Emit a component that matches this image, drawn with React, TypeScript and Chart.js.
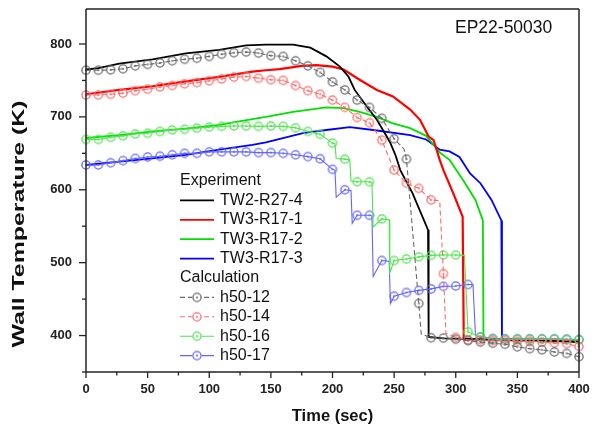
import React, { useEffect, useRef } from 'react';
import { Chart, registerables } from 'chart.js';

Chart.register(...registerables);

const FONT = '"Liberation Sans", Arial, Helvetica, sans-serif';

// ---- Experiment series [time (s), wall temperature (K)] ----
const expTW2_R27_4: number[][] = [
  [0, 765], [10, 767], [27, 773], [54, 779], [81, 787], [108, 792], [130, 798], [146, 799], [168, 799],
  [182, 795], [195, 783], [206, 769], [213, 755], [218, 737], [228, 714], [236, 696], [244, 673], [247, 664],
  [251, 648], [255, 627], [265, 595], [277.5, 545], [278, 398], [290, 396], [320, 395], [360, 394], [400, 391],
];
const expTW3_R17_1: number[][] = [
  [0, 731], [27, 737], [54, 742], [81, 748.6], [108, 755], [135, 762], [146, 764], [157, 765.5], [175, 770],
  [187, 771], [200, 769], [209, 765], [222, 751], [236, 737], [249, 728], [263, 710], [271, 696], [278, 673],
  [282, 668], [287, 641], [290, 627], [298, 595], [305.6, 563], [306.5, 395], [330, 394], [370, 393], [400, 392],
];
const expTW3_R17_2: number[][] = [
  [0, 671], [27, 675], [54, 680], [81, 684], [108, 689], [135, 697], [146, 700], [168, 707], [195, 713],
  [209, 712], [222, 707], [236, 700], [249, 691], [263, 684.5], [271, 678], [276, 674], [279, 668], [287, 651],
  [295, 641], [306, 613], [316, 586], [322, 558], [322.5, 395], [350, 394], [400, 393],
];
const expTW3_R17_3: number[][] = [
  [0, 634], [27, 638.6], [54, 643], [81, 648], [108, 655], [135, 661.5], [146, 665], [176, 677.6], [195, 682],
  [214, 686], [233, 682], [263, 675], [276, 669], [280, 664], [287, 655], [295, 652.6], [303, 645], [311.6, 622.5],
  [320, 609], [329, 586], [337, 558], [337.5, 395], [360, 394], [400, 393],
];

// ---- Calculation series (markers every 10 s) ----
const calcH50_12: number[][] = [
  [0, 764], [10, 764], [20, 764.5], [30, 766], [40, 770], [50, 772], [60, 774], [70, 777], [80, 779], [90, 780.5],
  [100, 783], [110, 786], [120, 788], [130, 789], [140, 787.5], [150, 784], [160, 783], [170, 777], [180, 770],
  [190, 761], [200, 748], [210, 737], [220, 723], [230, 713], [240, 698], [250, 670], [258, 656], [260, 642],
  [270, 444], [272, 402], [280, 397], [290, 396.5], [300, 395], [310, 393], [320, 391], [330, 389.5], [340, 388],
  [350, 384.5], [360, 382], [370, 380.5], [380, 377.5], [390, 375.5], [400, 371],
];
const calcH50_14: number[][] = [
  [0, 730], [10, 730], [20, 731], [30, 732.6], [40, 736], [50, 738], [60, 741], [70, 743], [80, 745.4], [90, 747],
  [100, 749.5], [110, 752], [120, 754.6], [130, 755.4], [140, 753], [150, 751], [160, 750], [170, 743], [180, 736],
  [190, 731], [200, 723], [210, 713], [220, 699], [230, 692], [240, 668], [250, 627], [260, 609], [270, 602],
  [280, 586], [287, 585], [290, 485], [292, 403], [300, 397.5], [310, 394], [320, 394], [330, 393], [340, 393],
  [350, 392], [360, 392], [370, 391], [380, 390], [390, 389], [400, 385],
];
const calcH50_16: number[][] = [
  [0, 669], [10, 669], [20, 672], [30, 674], [40, 676.5], [50, 677.5], [60, 680], [70, 682], [80, 683], [90, 684.5],
  [100, 686], [110, 687], [120, 687.5], [130, 687.5], [140, 687], [150, 687.5], [160, 687], [170, 685], [180, 680],
  [190, 676], [200, 664], [202, 663], [203, 643], [210, 642], [214, 641], [215, 612], [220, 611], [230, 611],
  [232, 610], [233, 549], [240, 560], [246, 559], [246.5, 486], [250, 503], [260, 505], [270, 508], [280, 510],
  [290, 510.5], [300, 510.5], [307, 510], [310, 405], [320, 398], [330, 395], [340, 395], [350, 395], [360, 395],
  [370, 395], [380, 395], [390, 394.5], [400, 394],
];
const calcH50_17: number[][] = [
  [0, 634], [10, 634], [20, 637], [30, 640], [40, 643], [50, 645], [60, 646], [70, 648], [80, 650], [90, 650],
  [100, 652], [110, 652], [120, 652], [130, 652], [140, 651], [150, 651], [160, 650], [170, 648], [180, 645.5],
  [190, 642.5], [200, 628], [202, 627], [203, 590], [210, 600], [215, 599], [216, 554], [220, 565], [230, 565],
  [232, 564], [233, 481], [240, 503], [246, 502], [247, 444], [250, 454], [260, 459], [270, 462], [280, 464],
  [290, 467.5], [300, 468], [310, 470], [314, 470], [316, 400], [320, 398], [330, 396], [340, 395.5], [350, 395.5],
  [360, 395.5], [370, 395.5], [380, 395.5], [390, 395], [400, 394.5],
];

const expLabels = ['TW2-R27-4', 'TW3-R17-1', 'TW3-R17-2', 'TW3-R17-3'];
const calcLabels = ['h50-12', 'h50-14', 'h50-16', 'h50-17'];
const xTicks = [0, 50, 100, 150, 200, 250, 300, 350, 400];
const yTicks = [400, 500, 600, 700, 800];
const xMinorTicks = [25, 75, 125, 175, 225, 275, 325, 375];
const yMinorTicks = [350, 450, 550, 650, 750];

const expColors = ['#000000', '#ff0000', '#00e000', '#0000ff'];
const calcColors = ['#6a6a6a', '#ff6b6b', '#4ee44e', '#6464ff'];
const calcDashed = [true, true, false, false];

const toXY = (arr: number[][]) => arr.map(([x, y]) => ({ x, y }));

function makeMarker(color: string): HTMLCanvasElement {
  const c = document.createElement('canvas');
  c.width = 12;
  c.height = 12;
  const g = c.getContext('2d')!;
  g.strokeStyle = color;
  g.lineWidth = 1.3;
  g.beginPath();
  g.arc(6, 6, 4.1, 0, Math.PI * 2);
  g.stroke();
  g.fillStyle = color;
  g.beginPath();
  g.arc(6, 6, 1, 0, Math.PI * 2);
  g.fill();
  return c;
}

export default function App() {
  const ref = useRef<HTMLCanvasElement | null>(null);

  useEffect(() => {
    if (!ref.current) return;
    const markers = calcColors.map(makeMarker);
    const expData = [expTW2_R27_4, expTW3_R17_1, expTW3_R17_2, expTW3_R17_3];
    const calcData = [calcH50_12, calcH50_14, calcH50_16, calcH50_17];

    const datasets: any[] = [];
    expData.forEach((d, i) => {
      datasets.push({
        label: expLabels[i],
        data: toXY(d),
        borderColor: expColors[i],
        backgroundColor: expColors[i],
        borderWidth: i === 1 ? 2.2 : 1.8,
        pointRadius: 0,
        tension: 0,
        order: 2,
      });
    });
    calcData.forEach((d, i) => {
      datasets.push({
        label: calcLabels[i],
        data: toXY(d),
        borderColor: calcColors[i],
        backgroundColor: 'transparent',
        borderWidth: 1.1,
        borderDash: calcDashed[i] ? [5, 3] : [],
        pointStyle: markers[i],
        pointRadius: (ctx: any) => (ctx.raw && ctx.raw.x % 10 === 0 ? 4 : 0),
        pointHoverRadius: 0,
        tension: 0,
        clip: false,
        order: 1,
      });
    });

    const decor = {
      id: 'decor',
      afterDraw(chart: any) {
        const { ctx, chartArea: a, scales } = chart;
        const xs = scales.x;
        const ys = scales.y;
        ctx.save();
        ctx.setLineDash([]);
        const seg = (x1: number, y1: number, x2: number, y2: number) => {
          ctx.beginPath();
          ctx.moveTo(x1, y1);
          ctx.lineTo(x2, y2);
          ctx.stroke();
        };
        // frame
        ctx.strokeStyle = '#222';
        ctx.lineWidth = 1.5;
        seg(a.left, a.top, a.right, a.top);
        seg(a.right, a.top, a.right, a.bottom);
        seg(a.left, a.bottom, a.right, a.bottom);
        seg(a.left, a.top, a.left, a.bottom);
        // ticks
        ctx.lineWidth = 1.3;
        xTicks.forEach((v) => { const p = xs.getPixelForValue(v); seg(p, a.bottom, p, a.bottom + 6); });
        xMinorTicks.forEach((v) => { const p = xs.getPixelForValue(v); seg(p, a.bottom, p, a.bottom + 3.5); });
        yTicks.forEach((v) => { const p = ys.getPixelForValue(v); seg(a.left - 7, p, a.left, p); });
        yMinorTicks.forEach((v) => { const p = ys.getPixelForValue(v); seg(a.left - 4, p, a.left, p); });

        // axis titles
        ctx.fillStyle = '#111';
        ctx.textAlign = 'center';
        ctx.textBaseline = 'middle';
        ctx.font = `bold 16.5px ${FONT}`;
        ctx.fillText('Time (sec)', (a.left + a.right) / 2, 416);
        ctx.save();
        ctx.translate(19, 224);
        ctx.rotate(-Math.PI / 2);
        ctx.font = `bold 17px ${FONT}`;
        const yt = 'Wall Temperature (K)';
        const w = ctx.measureText(yt).width;
        ctx.scale(247 / w, 1);
        ctx.fillText(yt, 0, 0);
        ctx.restore();

        // annotation
        ctx.textAlign = 'left';
        ctx.font = `17.5px ${FONT}`;
        ctx.fillStyle = '#111';
        ctx.fillText('EP22-50030', 455, 28);

        // legend
        const lx0 = 180;
        const lx1 = 214;
        const tx = 220;
        const y0 = 181;
        const dy = 19.4;
        ctx.font = `16px ${FONT}`;
        ctx.fillStyle = '#111';
        ctx.fillText('Experiment', lx0, y0);
        expLabels.forEach((lab, i) => {
          const y = y0 + dy * (i + 1);
          ctx.strokeStyle = expColors[i];
          ctx.lineWidth = 1.8;
          ctx.setLineDash([]);
          seg(lx0, y, lx1, y);
          ctx.fillStyle = '#111';
          ctx.fillText(lab, tx, y);
        });
        ctx.fillText('Calculation', lx0, y0 + dy * 5);
        calcLabels.forEach((lab, i) => {
          const y = y0 + dy * (i + 6);
          ctx.strokeStyle = calcColors[i];
          ctx.lineWidth = 1.1;
          ctx.setLineDash(calcDashed[i] ? [5, 3] : []);
          seg(lx0, y, lx1, y);
          ctx.setLineDash([]);
          const m = markers[i];
          ctx.clearRect((lx0 + lx1) / 2 - 5, y - 5, 10, 10);
          ctx.drawImage(m, (lx0 + lx1) / 2 - m.width / 2, y - m.height / 2);
          ctx.fillStyle = '#111';
          ctx.fillText(lab, tx, y);
        });
        ctx.restore();
      },
    };

    const chart = new Chart(ref.current, {
      type: 'line',
      data: { datasets },
      options: {
        animation: false,
        responsive: false,
        maintainAspectRatio: false,
        devicePixelRatio: 1,
        layout: { padding: { left: 0, right: 13, top: 9, bottom: 0 } },
        plugins: { legend: { display: false }, tooltip: { enabled: false } },
        events: [],
        scales: {
          x: {
            type: 'linear',
            min: 0,
            max: 400,
            afterBuildTicks: (s: any) => { s.ticks = xTicks.map((v) => ({ value: v })); },
            afterFit: (s: any) => {
              s.height = 56;
              s.paddingLeft = 0;
              s.paddingRight = 0;
              s.paddingTop = 0;
              s.paddingBottom = 0;
            },
            grid: { display: false, drawTicks: false },
            border: { display: false },
            ticks: { padding: 10, font: { family: FONT, size: 13, weight: 'bold' }, color: '#222', maxRotation: 0 },
          },
          y: {
            type: 'linear',
            min: 350,
            max: 848,
            afterBuildTicks: (s: any) => { s.ticks = yTicks.map((v) => ({ value: v })); },
            afterFit: (s: any) => {
              s.width = 86;
              s.paddingLeft = 0;
              s.paddingRight = 0;
              s.paddingTop = 0;
              s.paddingBottom = 0;
            },
            grid: { display: false, drawTicks: false },
            border: { display: false },
            ticks: { padding: 14, font: { family: FONT, size: 13, weight: 'bold' }, color: '#222' },
          },
        },
      },
      plugins: [decor],
    } as any);
    return () => chart.destroy();
  }, []);

  return (
    <div style={{ position: 'fixed', left: 0, top: 0, width: 592, height: 428, background: '#fff' }}>
      <canvas ref={ref} width={592} height={428} style={{ width: 592, height: 428, display: 'block' }} />
    </div>
  );
}
